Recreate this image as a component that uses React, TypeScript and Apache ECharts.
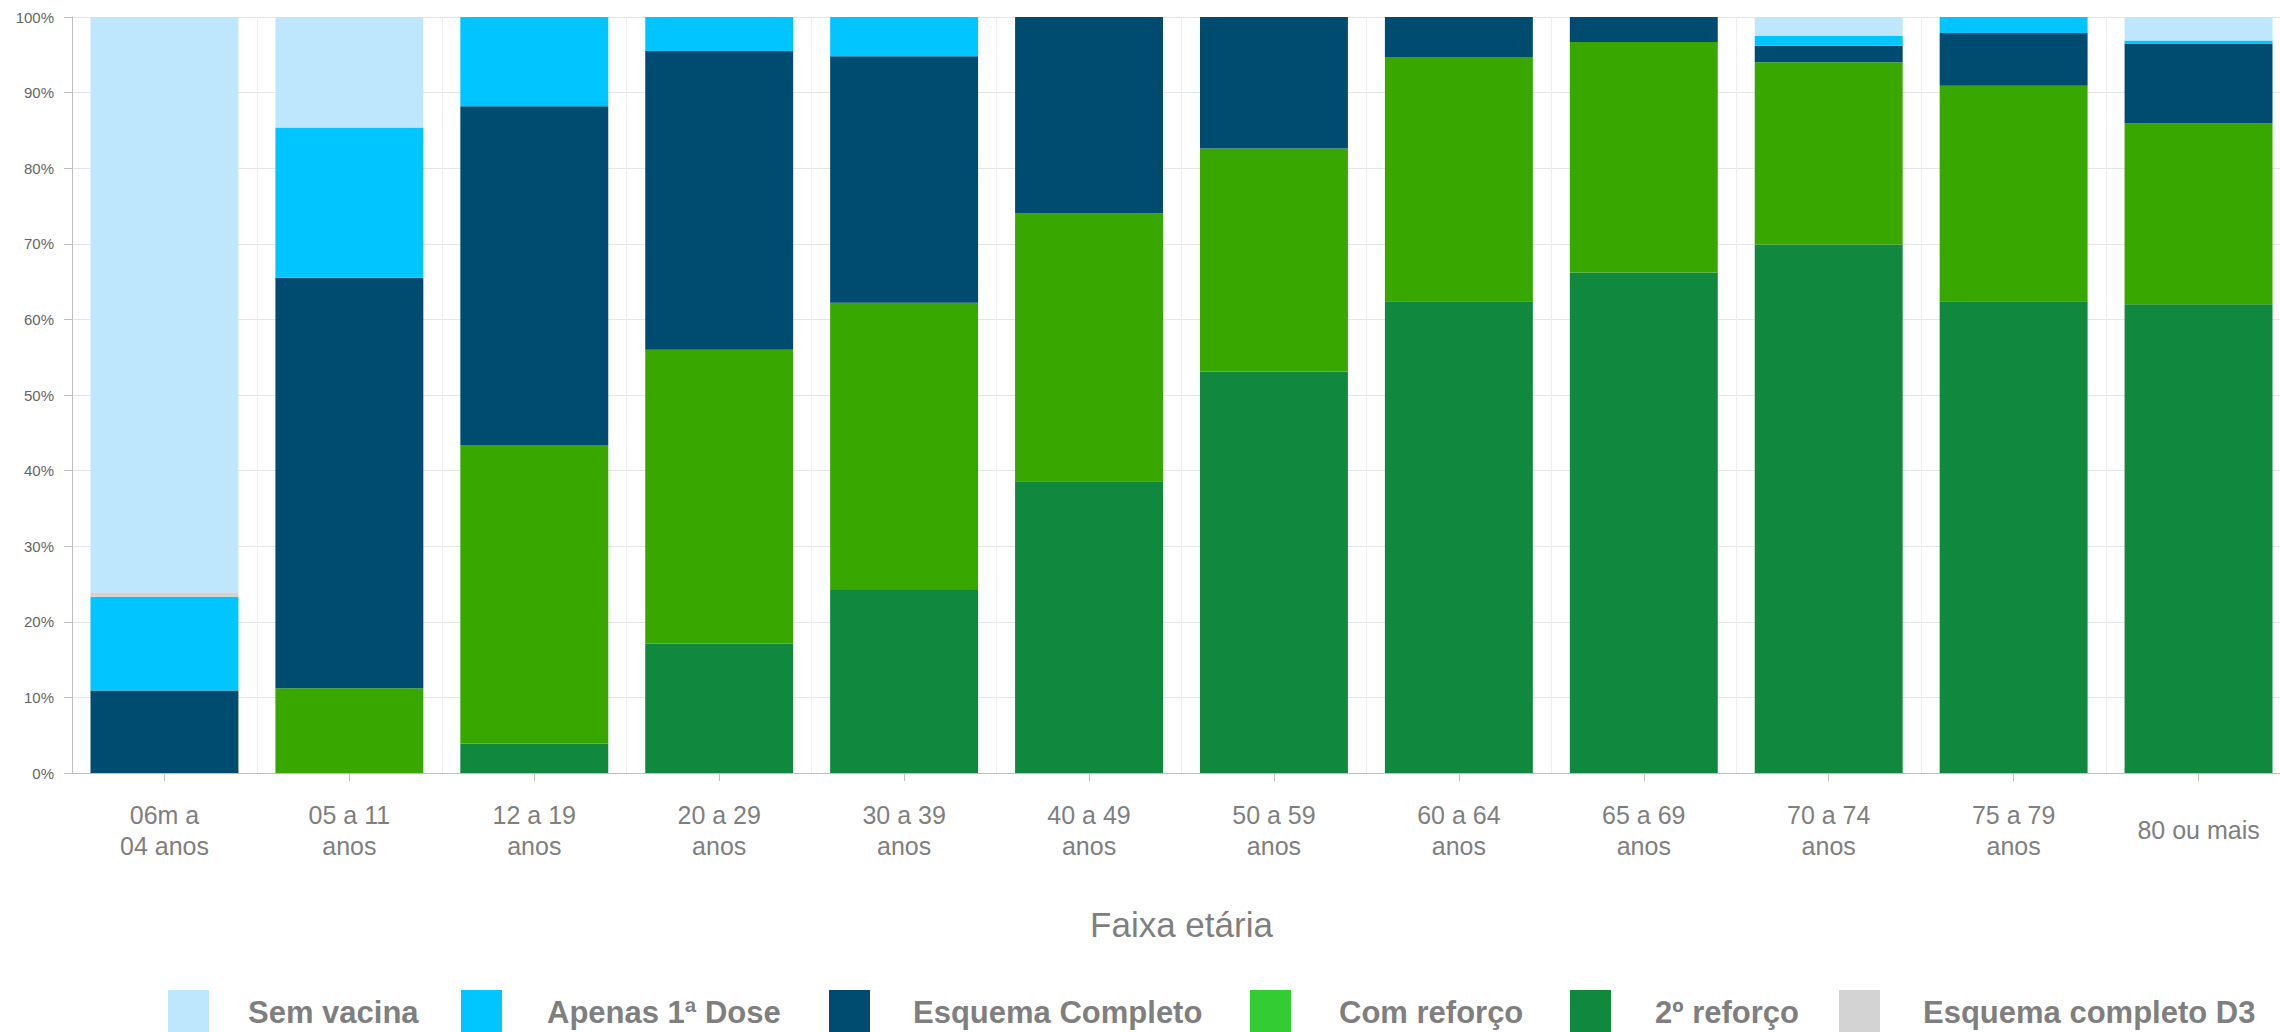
import React, { useEffect, useRef } from "react";
import * as echarts from "echarts";

const categories = [
  "06m a\n04 anos",
  "05 a 11\nanos",
  "12 a 19\nanos",
  "20 a 29\nanos",
  "30 a 39\nanos",
  "40 a 49\nanos",
  "50 a 59\nanos",
  "60 a 64\nanos",
  "65 a 69\nanos",
  "70 a 74\nanos",
  "75 a 79\nanos",
  "80 ou mais",
];

// stacked bottom to top
const segundoReforco = [0, 0, 3.9, 17.1, 24.2, 38.6, 53.1, 62.4, 66.2, 69.9, 62.4, 62.0];
const comReforco = [0, 11.2, 39.5, 38.9, 38.0, 35.4, 29.5, 32.3, 30.5, 24.1, 28.5, 23.9];
const esquemaCompleto = [10.9, 54.3, 44.8, 39.5, 32.6, 26.0, 17.4, 5.3, 3.3, 2.2, 7.0, 10.6];
const apenasPrimeiraDose = [12.4, 19.9, 11.8, 4.5, 5.2, 0, 0, 0, 0, 1.3, 2.1, 0.4];
const esquemaCompletoD3 = [0.6, 0, 0, 0, 0, 0, 0, 0, 0, 0, 0, 0];
const semVacina = [76.1, 14.6, 0, 0, 0, 0, 0, 0, 0, 2.5, 0, 3.1];

const yTicks = [0, 10, 20, 30, 40, 50, 60, 70, 80, 90, 100];

const FONT = "'Liberation Sans', Arial, sans-serif";

export default function App() {
  const ref = useRef<HTMLDivElement>(null);

  useEffect(() => {
    if (!ref.current) return;
    const chart = echarts.init(ref.current, null, { renderer: "svg" });

    const seriesDefs = [
      { name: "2º reforço", data: segundoReforco, color: "#10893F" },
      { name: "Com reforço", data: comReforco, color: "#38A800" },
      { name: "Esquema Completo", data: esquemaCompleto, color: "#004C71" },
      { name: "Apenas 1ª Dose", data: apenasPrimeiraDose, color: "#00C5FF" },
      { name: "Esquema completo D3", data: esquemaCompletoD3, color: "#D3D3D3" },
      { name: "Sem vacina", data: semVacina, color: "#BEE7FE" },
    ];

    const legendLayout = [
      { name: "Sem vacina", left: 168, pad: 34 },
      { name: "Apenas 1ª Dose", left: 461, pad: 40 },
      { name: "Esquema Completo", left: 829, pad: 38 },
      { name: "Com reforço", left: 1250, pad: 43, color: "#33CC33" },
      { name: "2º reforço", left: 1570, pad: 39 },
      { name: "Esquema completo D3", left: 1839, pad: 38 },
    ];

    chart.setOption({
      animation: false,
      textStyle: { fontFamily: FONT },
      grid: {
        left: 72,
        width: 2219,
        top: 17,
        height: 756,
        containLabel: false,
        outerBoundsMode: "none",
      },
      legend: legendLayout.map((l) => ({
        show: true,
        left: l.left,
        top: 990,
        padding: 0,
        icon: "rect",
        itemWidth: 41,
        itemHeight: 44,
        itemGap: 0,
        selectedMode: false,
        data: [l.color ? { name: l.name, itemStyle: { color: l.color } } : { name: l.name }],
        textStyle: {
          fontSize: 31,
          fontWeight: "bold",
          color: "#7f7f7f",
          fontFamily: FONT,
          padding: [0, 0, 0, l.pad],
        },
      })),
      xAxis: {
        type: "category",
        data: categories,
        name: "Faixa etária",
        nameLocation: "middle",
        nameGap: 134,
        nameTextStyle: { fontSize: 35, color: "#7f7f7f", fontFamily: FONT },
        axisLine: { show: true, lineStyle: { color: "#bfbfbf", width: 1 } },
        axisTick: { show: true, alignWithLabel: true, length: 8, lineStyle: { color: "#bfbfbf" } },
        splitLine: { show: true, lineStyle: { color: "#eeeeee", width: 1 } },
        axisLabel: {
          interval: 0,
          fontSize: 25,
          lineHeight: 31,
          color: "#7f7f7f",
          margin: 57,
          verticalAlign: "middle",
          fontFamily: FONT,
        },
      },
      yAxis: {
        type: "value",
        min: yTicks[0],
        max: yTicks[yTicks.length - 1],
        interval: yTicks[1] - yTicks[0],
        axisLine: { show: true, lineStyle: { color: "#bfbfbf", width: 1 } },
        axisTick: { show: true, length: 8, lineStyle: { color: "#bfbfbf" } },
        splitLine: { show: true, lineStyle: { color: "#e6e6e6", width: 1 } },
        axisLabel: {
          formatter: "{value}%",
          fontSize: 15,
          color: "#666666",
          margin: 18,
          fontFamily: FONT,
        },
      },
      series: seriesDefs.map((s) => ({
        name: s.name,
        type: "bar",
        stack: "total",
        barWidth: "80%",
        data: s.data,
        itemStyle: { color: s.color },
        emphasis: { disabled: true },
      })),
    });

    return () => chart.dispose();
  }, []);

  return (
    <div
      ref={ref}
      style={{ position: "fixed", left: 0, top: 0, width: 2280, height: 1032, background: "#ffffff" }}
    />
  );
}
